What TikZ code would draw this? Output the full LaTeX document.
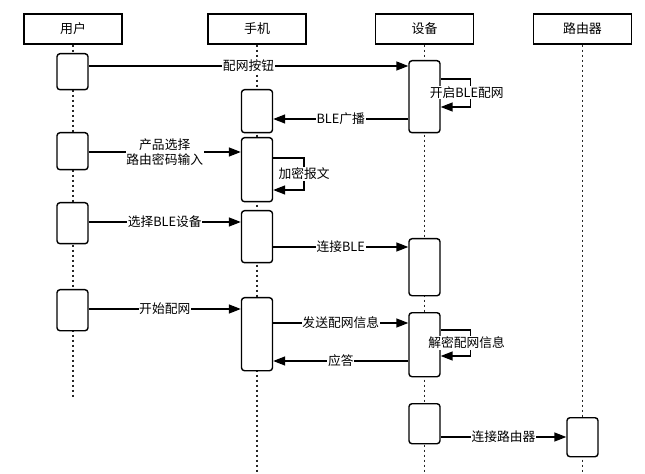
\documentclass[tikz,border=0pt]{standalone}
\usepackage{fontspec}
\setmainfont{Noto Sans CJK SC}
\usetikzlibrary{arrows.meta}
\begin{document}
\begin{tikzpicture}[x=1bp,y=-1bp,
  head/.style={draw, line width=1.4bp, minimum width=98bp, minimum height=30bp, inner sep=0pt, font=\fontsize{13}{15}\selectfont},
  act/.style={draw, fill=white, rounded corners=3bp, line width=1.4bp, minimum width=31bp, inner sep=0pt, anchor=north},
  life/.style={line width=1.2bp, dash pattern=on 2bp off 3bp, black!85},
  msg/.style={line width=1.5bp, -{Triangle[length=12bp,width=9bp]}},
  lbl/.style={fill=white, inner sep=0.6bp, align=center, font=\fontsize{12.8}{14.5}\selectfont}]
\useasboundingbox (0,0) rectangle (645,474);
% headers
\node[head] (hU) at (73,29) {用户};
\node[head] (hP) at (257,29) {手机};
\node[head] (hC) at (424.5,29) {设备};
\node[head] (hR) at (582.5,29) {路由器};
% lifelines
\draw[life] (hU.south) -- (hU.south |- 0,397);
\draw[life] (hP.south) -- (hP.south |- 0,474);
\draw[life] (hC.south) -- (hC.south |- 0,474);
\draw[life] (hR.south) -- (hR.south |- 0,474);
% activations: user
\node[act, minimum height=36bp] (A1) at (72.5,53) {};
\node[act, minimum height=37bp] (A2) at (72.5,132) {};
\node[act, minimum height=41bp] (A3) at (72.5,202) {};
\node[act, minimum height=41bp] (A4) at (72.5,289) {};
% phone
\node[act, minimum height=43bp] (B1) at (257,89) {};
\node[act, minimum height=64bp] (B2) at (257,137) {};
\node[act, minimum height=52bp] (B3) at (257,210) {};
\node[act, minimum height=73bp] (B4) at (257,297) {};
% device
\node[act, minimum height=72bp] (C1) at (424.5,60) {};
\node[act, minimum height=57bp] (C2) at (424.5,238) {};
\node[act, minimum height=64bp] (C3) at (424.5,312) {};
\node[act, minimum height=40bp] (C4) at (424.5,403) {};
% router
\node[act, minimum height=39bp] (D1) at (582.5,417) {};
% messages
\draw[msg] (A1.east |- 0,66) -- node[lbl] {配网按钮} (C1.west |- 0,66);
\draw[msg] (C1.east |- 0,79) -- ++(30,0) -- node[lbl, xshift=-4bp] {开启BLE配网} ++(0,28) -- (C1.east |- 0,107);
\draw[msg] (C1.west |- 0,119) -- node[lbl] {BLE广播} (B1.east |- 0,119);
\draw[msg] (A2.east |- 0,152) -- node[lbl] {产品选择\\路由密码输入} (B2.west |- 0,152);
\draw[msg] (B2.east |- 0,158) -- ++(31,0) -- node[lbl] {加密报文} ++(0,32) -- (B2.east |- 0,190);
\draw[msg] (A3.east |- 0,222) -- node[lbl] {选择BLE设备} (B3.west |- 0,222);
\draw[msg] (B3.east |- 0,247) -- node[lbl] {连接BLE} (C2.west |- 0,247);
\draw[msg] (A4.east |- 0,309) -- node[lbl] {开始配网} (B4.west |- 0,309);
\draw[msg] (B4.east |- 0,323) -- node[lbl] {发送配网信息} (C3.west |- 0,323);
\draw[msg] (C3.east |- 0,330) -- ++(30,0) -- node[lbl, xshift=-4bp] {解密配网信息} ++(0,26) -- (C3.east |- 0,356);
\draw[msg] (C3.west |- 0,361) -- node[lbl] {应答} (B4.east |- 0,361);
\draw[msg] (C4.east |- 0,437) -- node[lbl] {连接路由器} (D1.west |- 0,437);
\end{tikzpicture}
\end{document}
